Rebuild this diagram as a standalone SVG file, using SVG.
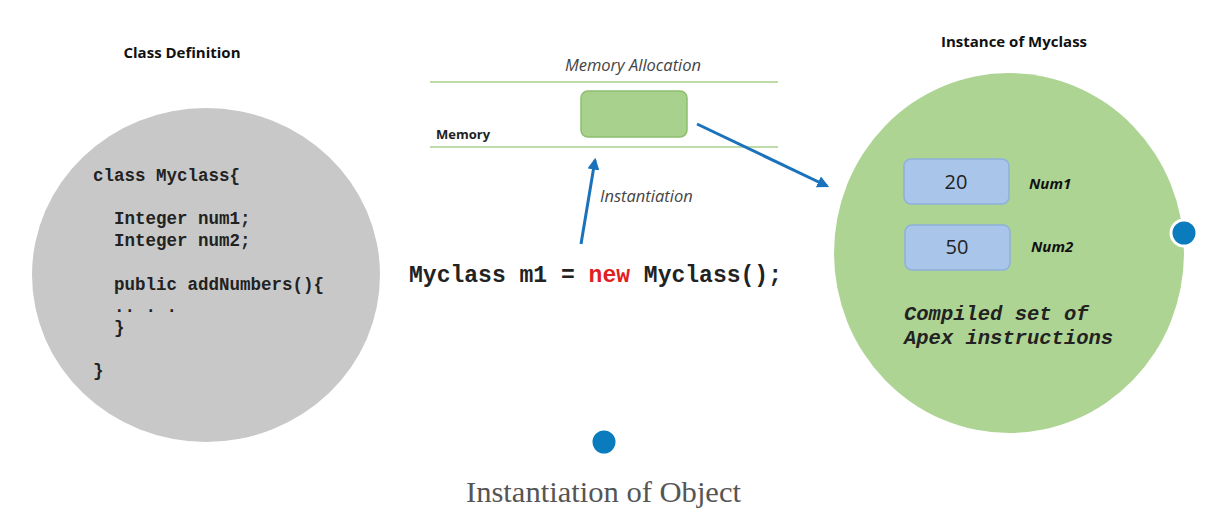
<svg xmlns="http://www.w3.org/2000/svg" width="1206" height="522" viewBox="0 0 1206 522">
<style>
.h{font-family:"Open Sans","Liberation Sans",sans-serif;font-weight:bold;font-size:15px;fill:#111}
.code{font-family:"Liberation Mono","Courier New",monospace;font-weight:bold;font-size:17.5px;fill:#222}
.lab{font-family:"Open Sans","Liberation Sans",sans-serif;font-style:italic;font-size:16.5px;fill:#444}
.box{fill:#a9c6ea;stroke:#8eb0dc;stroke-width:1.5}
.conn{stroke:#1a72bb;stroke-width:3;fill:none;marker-end:url(#ah)}
.dot{fill:#0a7bbd;stroke:#fff;stroke-width:3}
</style>
<defs>
<marker id="ah" viewBox="0 0 10 10" refX="8" refY="5" markerWidth="4" markerHeight="4" orient="auto"><path d="M0,0L10,5L0,10z" fill="#1a72bb"/></marker>
</defs>
<rect width="1206" height="522" fill="#fff"/>
<g id="class-def">
<text class="h" x="182" y="58" text-anchor="middle">Class Definition</text>
<ellipse cx="206" cy="275" rx="174" ry="167" fill="#c8c8c8"/>
<text class="code" x="93" y="181">class Myclass{</text>
<text class="code" x="114" y="224">Integer num1;</text>
<text class="code" x="114" y="246">Integer num2;</text>
<text class="code" x="114" y="290">public addNumbers(){</text>
<text class="code" x="114" y="312">.. . .</text>
<text class="code" x="114" y="333">}</text>
<text class="code" x="93" y="376">}</text>
</g>
<g id="memory">
<line x1="430" y1="82" x2="778" y2="82" stroke="#a8d08d" stroke-width="1.5"/>
<line x1="430" y1="147" x2="778" y2="147" stroke="#a8d08d" stroke-width="1.5"/>
<text class="lab" x="633" y="71" text-anchor="middle">Memory Allocation</text>
<text x="436" y="139" font-family="Open Sans,Liberation Sans,sans-serif" font-weight="bold" font-size="13" fill="#222">Memory</text>
<rect x="581" y="91" width="106" height="46" rx="7" fill="#a9d18e" stroke="#8cbf6e" stroke-width="1.5"/>
</g>
<g id="statement">
<text x="409" y="282" font-family="Liberation Mono,Courier New,monospace" font-weight="bold" font-size="23" fill="#222" textLength="373" lengthAdjust="spacingAndGlyphs">Myclass m1 = <tspan fill="#e02020">new</tspan> Myclass();</text>
<text class="lab" x="600" y="202">Instantiation</text>
</g>
<g id="instance">
<text class="h" x="1014" y="47" text-anchor="middle">Instance of Myclass</text>
<ellipse cx="1009" cy="253" rx="175" ry="180" fill="#aed494"/>
<rect class="box" x="904" y="159" width="105" height="45" rx="7"/>
<text x="956" y="189" text-anchor="middle" font-family="Open Sans,Liberation Sans,sans-serif" font-size="20" fill="#222">20</text>
<text x="1029" y="189" font-family="Open Sans,Liberation Sans,sans-serif" font-weight="bold" font-style="italic" font-size="15" fill="#111">Num1</text>
<rect class="box" x="905" y="225" width="105" height="45" rx="7"/>
<text x="957" y="254" text-anchor="middle" font-family="Open Sans,Liberation Sans,sans-serif" font-size="20" fill="#222">50</text>
<text x="1031" y="252" font-family="Open Sans,Liberation Sans,sans-serif" font-weight="bold" font-style="italic" font-size="15" fill="#111">Num2</text>
<text x="904" y="320" font-family="Liberation Mono,Courier New,monospace" font-weight="bold" font-style="italic" font-size="20.5" fill="#222">Compiled set of</text>
<text x="904" y="344" font-family="Liberation Mono,Courier New,monospace" font-weight="bold" font-style="italic" font-size="20.5" fill="#222">Apex instructions</text>
</g>
<g id="connectors">
<line class="conn" x1="581" y1="244" x2="595" y2="160"/>
<line class="conn" x1="697" y1="124" x2="827" y2="186"/>
</g>
<circle class="dot" cx="1184" cy="233" r="13"/>
<circle class="dot" cx="604" cy="442" r="13"/>
<text x="466" y="502" font-family="Liberation Serif,serif" font-size="29" fill="#555" textLength="275" lengthAdjust="spacingAndGlyphs">Instantiation of Object</text>
</svg>
